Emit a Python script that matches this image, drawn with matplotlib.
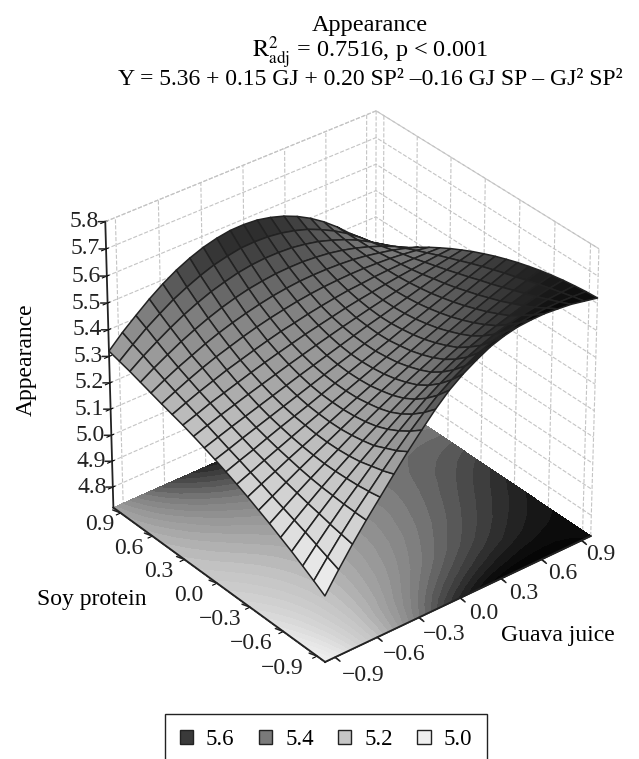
import numpy as np
import matplotlib
matplotlib.use("Agg")
import matplotlib.pyplot as plt
from matplotlib.colors import LinearSegmentedColormap, BoundaryNorm, Normalize
from matplotlib.patches import Patch
from mpl_toolkits.mplot3d import proj3d

plt.rcParams['font.family'] = ['Liberation Serif', 'DejaVu Serif']
plt.rcParams['mathtext.fontset'] = 'stix'

guava = [-0.97, -0.873, -0.776, -0.679, -0.582, -0.485, -0.388, -0.291, -0.194, -0.097, 0.0,
         0.097, 0.194, 0.291, 0.388, 0.485, 0.582, 0.679, 0.776, 0.873, 0.97]
soy = [-0.97, -0.873, -0.776, -0.679, -0.582, -0.485, -0.388, -0.291, -0.194, -0.097, 0.0,
       0.097, 0.194, 0.291, 0.388, 0.485, 0.582, 0.679, 0.776, 0.873, 0.97]
appearance = [
    [4.970, 5.045, 5.116, 5.182, 5.244, 5.306, 5.366, 5.422, 5.476, 5.523, 5.560, 5.590, 5.616, 5.633, 5.644, 5.648, 5.649, 5.645, 5.640, 5.630, 5.620],
    [4.997, 5.062, 5.124, 5.182, 5.236, 5.290, 5.341, 5.390, 5.436, 5.477, 5.511, 5.540, 5.566, 5.586, 5.600, 5.610, 5.617, 5.621, 5.622, 5.620, 5.617],
    [5.023, 5.079, 5.132, 5.183, 5.230, 5.278, 5.322, 5.363, 5.402, 5.438, 5.470, 5.498, 5.523, 5.544, 5.563, 5.577, 5.589, 5.597, 5.605, 5.609, 5.612],
    [5.048, 5.096, 5.142, 5.186, 5.227, 5.266, 5.303, 5.341, 5.375, 5.407, 5.436, 5.463, 5.488, 5.511, 5.530, 5.546, 5.561, 5.576, 5.588, 5.598, 5.606],
    [5.071, 5.112, 5.151, 5.189, 5.225, 5.259, 5.293, 5.324, 5.354, 5.383, 5.410, 5.435, 5.460, 5.482, 5.503, 5.523, 5.541, 5.558, 5.573, 5.586, 5.598],
    [5.094, 5.128, 5.162, 5.194, 5.225, 5.255, 5.285, 5.313, 5.340, 5.366, 5.392, 5.416, 5.439, 5.462, 5.483, 5.503, 5.522, 5.540, 5.558, 5.574, 5.589],
    [5.115, 5.144, 5.173, 5.201, 5.228, 5.254, 5.280, 5.306, 5.331, 5.355, 5.378, 5.401, 5.423, 5.445, 5.466, 5.486, 5.506, 5.525, 5.543, 5.560, 5.578],
    [5.136, 5.161, 5.185, 5.210, 5.233, 5.256, 5.279, 5.302, 5.324, 5.346, 5.368, 5.389, 5.410, 5.431, 5.451, 5.471, 5.491, 5.510, 5.529, 5.548, 5.566],
    [5.155, 5.176, 5.198, 5.219, 5.240, 5.261, 5.281, 5.302, 5.322, 5.342, 5.362, 5.382, 5.402, 5.421, 5.440, 5.459, 5.478, 5.497, 5.516, 5.534, 5.552],
    [5.173, 5.192, 5.210, 5.230, 5.249, 5.267, 5.285, 5.304, 5.323, 5.341, 5.359, 5.377, 5.395, 5.414, 5.431, 5.449, 5.467, 5.484, 5.502, 5.520, 5.537],
    [5.190, 5.207, 5.225, 5.242, 5.259, 5.276, 5.293, 5.310, 5.327, 5.344, 5.360, 5.377, 5.393, 5.409, 5.425, 5.441, 5.457, 5.473, 5.489, 5.505, 5.520],
    [5.206, 5.223, 5.240, 5.256, 5.272, 5.288, 5.304, 5.320, 5.335, 5.350, 5.365, 5.380, 5.395, 5.408, 5.422, 5.436, 5.450, 5.464, 5.476, 5.489, 5.502],
    [5.221, 5.239, 5.256, 5.272, 5.288, 5.303, 5.318, 5.333, 5.347, 5.361, 5.374, 5.387, 5.399, 5.411, 5.422, 5.433, 5.444, 5.454, 5.464, 5.473, 5.482],
    [5.235, 5.253, 5.272, 5.288, 5.304, 5.320, 5.335, 5.349, 5.362, 5.375, 5.386, 5.397, 5.408, 5.417, 5.425, 5.433, 5.440, 5.446, 5.452, 5.457, 5.461],
    [5.247, 5.268, 5.288, 5.306, 5.324, 5.339, 5.354, 5.368, 5.381, 5.391, 5.402, 5.411, 5.419, 5.426, 5.430, 5.435, 5.438, 5.440, 5.440, 5.440, 5.438],
    [5.259, 5.283, 5.306, 5.327, 5.346, 5.362, 5.378, 5.392, 5.404, 5.414, 5.423, 5.430, 5.435, 5.438, 5.440, 5.440, 5.438, 5.435, 5.430, 5.423, 5.414],
    [5.272, 5.299, 5.324, 5.346, 5.368, 5.387, 5.403, 5.417, 5.429, 5.439, 5.446, 5.451, 5.453, 5.453, 5.451, 5.447, 5.440, 5.430, 5.419, 5.405, 5.388],
    [5.285, 5.316, 5.344, 5.371, 5.394, 5.415, 5.433, 5.448, 5.460, 5.468, 5.474, 5.476, 5.476, 5.472, 5.466, 5.456, 5.443, 5.427, 5.408, 5.386, 5.361],
    [5.298, 5.334, 5.366, 5.396, 5.423, 5.446, 5.466, 5.481, 5.494, 5.502, 5.506, 5.506, 5.503, 5.495, 5.484, 5.468, 5.449, 5.426, 5.398, 5.367, 5.332],
    [5.309, 5.350, 5.389, 5.422, 5.453, 5.478, 5.500, 5.518, 5.530, 5.539, 5.541, 5.539, 5.532, 5.520, 5.504, 5.482, 5.456, 5.425, 5.389, 5.348, 5.302],
    [5.320, 5.368, 5.410, 5.450, 5.485, 5.515, 5.539, 5.558, 5.571, 5.579, 5.580, 5.576, 5.565, 5.549, 5.527, 5.499, 5.465, 5.425, 5.379, 5.328, 5.270],
]
z_ticks = [4.8, 4.9, 5.0, 5.1, 5.2, 5.3, 5.4, 5.5, 5.6, 5.7, 5.8]
xy_ticks = [-0.9, -0.6, -0.3, 0.0, 0.3, 0.6, 0.9]
legend_values = ['5.6', '5.4', '5.2', '5.0']
legend_colors = ['#3a3a3a', '#7a7a7a', '#c6c6c6', '#efefef']

grays = LinearSegmentedColormap.from_list('grays', [
    (0.0, '#f4f4f4'), (0.14, '#e6e6e6'), (0.4, '#c2c2c2'), (0.67, '#7e7e7e'),
    (0.786, '#505050'), (0.9, '#222222'), (0.97, '#0a0a0a'), (1.0, '#060606')])
levels = np.arange(4.95, 5.66, 0.0225)
floor_norm = BoundaryNorm(levels, 256, clip=True)
surface_norm = Normalize(4.95, 5.65)

lo, hi = -0.97, 0.97
z_lo, z_hi = 4.72, 5.8

X, Y = np.meshgrid(guava, soy)
Z = np.array(appearance)

fig = plt.figure(figsize=(6.39, 7.59), dpi=100)
ax = fig.add_axes([23 / 639, -10 / 759, 1, 1], projection='3d', proj_type='persp',
                  focal_length=1.6, computed_zorder=False)
ax.view_init(elev=33, azim=-129)
ax.set_box_aspect((1, 1, 0.99), zoom=0.905)

# dashed outline of the back walls
wall_edges = [
    ([lo, hi], [hi, hi], [z_hi, z_hi]),
    ([hi, hi], [hi, lo], [z_hi, z_hi]),
    ([hi, hi], [hi, hi], [z_lo, z_hi]),
    ([hi, hi], [lo, lo], [z_lo, z_hi]),
]
for ex, ey, ez in wall_edges:
    ax.plot(ex, ey, ez, color='#c4c4c4', linestyle='--', linewidth=0.8, zorder=0.5)

ax.contourf(X, Y, Z, levels=levels, zdir='z', offset=z_lo, cmap=grays, norm=floor_norm, zorder=1)
ax.plot_surface(X, Y, Z, rstride=1, cstride=1, cmap=grays, norm=surface_norm, zorder=2,
                edgecolor='#222222', linewidth=1.1, shade=False, antialiased=True)

# front floor edges sit on top of the contour fill
ax.plot([lo, hi], [lo, lo], [z_lo, z_lo], color='#222222', linewidth=1.3, zorder=3)
ax.plot([lo, lo], [lo, hi], [z_lo, z_lo], color='#222222', linewidth=1.3, zorder=3)

ax.set_xlim(lo, hi, view_margin=0)
ax.set_ylim(lo, hi, view_margin=0)
ax.set_zlim(z_lo, z_hi, view_margin=0)
ax.set_xticks(xy_ticks)
ax.set_yticks(xy_ticks)
ax.set_zticks(z_ticks)

for axis in (ax.xaxis, ax.yaxis, ax.zaxis):
    axis.set_major_formatter(lambda v, p: '')
    axis.set_pane_color((1, 1, 1, 1))
    axis.pane.set_edgecolor('none')
    axis.line.set_color('#222222')
    axis.line.set_linewidth(1.3)
    axis._axinfo['grid'].update(color='#c4c4c4', linestyle='--', linewidth=0.8)


def tick_text(x, y, z, label, dx, dy, tick):
    sx, sy, _ = proj3d.proj_transform(x, y, z, ax.get_proj())
    ax.annotate(label, xy=(sx, sy), xytext=(dx, dy), textcoords='offset pixels',
                ha='center', va='center', fontsize=17, color='#222222')
    ax.annotate('', xy=(sx, sy), xytext=tick, textcoords='offset pixels',
                arrowprops=dict(arrowstyle='-', color='#222222', lw=1.1, shrinkA=0, shrinkB=0))


for t in xy_ticks:
    label = f'{t:.1f}'.replace('-', '\u2212')
    tick_text(t, lo, z_lo, label, 24 - 4.7 * t, -16 + 2.4 * t, (5, -4))
    tick_text(lo, t, z_lo, label, -28 + 7.5 * t, -12, (-8, 3))
for t in z_ticks:
    tick_text(lo, hi, t, f'{t:.1f}', -21, 0, (-7, 0))

fig.text(0.579, 1 - 31 / 759, 'Appearance', ha='center', va='baseline', fontsize=17.5)
fig.text(0.579, 1 - 58 / 759, '$\\mathrm{R}^{2}_{\\mathrm{adj}}$ = 0.7516, p < 0.001',
         ha='center', va='baseline', fontsize=17.5)
fig.text(0.579, 1 - 85 / 759, 'Y = 5.36 + 0.15 GJ + 0.20 SP\u00b2 \u20130.16 GJ SP \u2013 GJ\u00b2 SP\u00b2',
         ha='center', va='baseline', fontsize=17)
fig.text(92 / 639, 1 - 600 / 759, 'Soy protein', ha='center', va='center', fontsize=17)
fig.text(558 / 639, 1 - 636 / 759, 'Guava juice', ha='center', va='center', fontsize=17)
fig.text(26 / 639, 1 - 360 / 759, 'Appearance', ha='center', va='center', rotation=90, fontsize=17)

handles = [Patch(facecolor=c, edgecolor='#222222') for c in legend_colors]
fig.legend(handles, legend_values, ncol=4, loc='upper left', bbox_to_anchor=(165 / 639, 1 - 714 / 759),
           fontsize=16.5, fancybox=False, edgecolor='#222222', framealpha=1,
           handlelength=0.57, handleheight=0.57, columnspacing=1.07, handletextpad=0.57,
           borderpad=0.65, borderaxespad=0)

fig.savefig('out.png', dpi=100)
